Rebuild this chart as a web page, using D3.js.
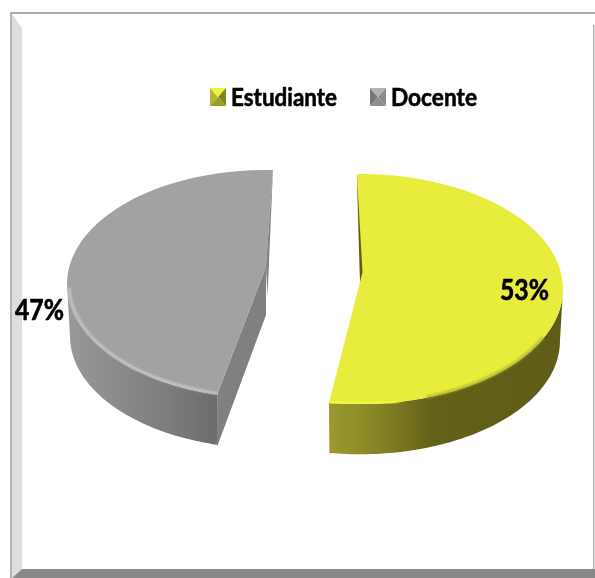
<!DOCTYPE html>
<head>
  <meta charset="utf-8">
  <title>Estudiante / Docente</title>
  <script src="https://d3js.org/d3.v7.min.js"></script>
  <style>
    html, body { margin: 0; padding: 0; background: #fff; }
    svg { display: block; }
    text { font-family: Lato, "Open Sans", sans-serif; font-weight: 700; fill: #000; stroke: #000; stroke-width: 0.6px; }
    .legend-label { font-size: 25px; }
    .pct-label { font-size: 28px; }
  </style>
</head>
<body>
  <script>
    var categories = ["Estudiante", "Docente"];
    var values = [53, 47];
    var valueLabels = ["53%", "47%"];

    var width = 595, height = 578;
    var deg = Math.PI / 180;

    // each slice sits on its own ellipse because the pie is exploded
    // startTurn / endTurn nudge the cut edges for the perspective of the original
    var sliceLayout = [
      {cx: 360, cy: 289, rx: 203, ry: 115, depth: 52, apexDy: -7, startTurn: 0, endTurn: -1.1,
       top: "#e8ec3c", rim: "#f9fb45", dark: "#5f5c18", side: ["#9a9a2e", "#8a8826", "#636019", "#5f5c18"],
       labelX: 524.5, labelY: 300, labelW: 49},
      {cx: 266, cy: 284, rx: 199, ry: 114, depth: 52, apexDy: -17, startTurn: 4.3, endTurn: 2.9,
       top: "#a2a2a2", rim: "#d2d2d2", dark: "#808080", side: ["#999999", "#8c8c8c", "#7b7b7b", "#6c6c6c"],
       labelX: 39.5, labelY: 320, labelW: 49}
    ];

    var svg = d3.select("body").append("svg")
      .attr("width", width)
      .attr("height", height);

    var defs = svg.append("defs");
    defs.append("filter").attr("id", "soft")
      .attr("x", "-5%").attr("y", "-5%").attr("width", "110%").attr("height", "110%")
      .append("feGaussianBlur").attr("stdDeviation", 1);
    defs.append("filter").attr("id", "textSoft")
      .attr("x", "-5%").attr("y", "-10%").attr("width", "110%").attr("height", "120%")
      .append("feGaussianBlur").attr("stdDeviation", 0.35);
    defs.append("filter").attr("id", "keySoft")
      .attr("x", "-10%").attr("y", "-10%").attr("width", "120%").attr("height", "120%")
      .append("feGaussianBlur").attr("stdDeviation", 0.6);

    // frame
    svg.append("rect").attr("x", 10).attr("y", 12).attr("width", 585).attr("height", 2).attr("fill", "#aaaaaa");
    svg.append("rect").attr("x", 10).attr("y", 12).attr("width", 2).attr("height", 566).attr("fill", "#b4b4b4");
    svg.append("path").attr("d", "M12,14L22,28V569L12,578Z").attr("fill", "#dddddd");
    svg.append("path").attr("d", "M12,578L22,569H595V578Z").attr("fill", "#888888");
    svg.append("rect").attr("x", 593).attr("y", 25).attr("width", 1.5).attr("height", 544).attr("fill", "#b0b0b0");

    var pie = d3.pie().sort(null).startAngle(-0.9 * deg).endAngle(359.1 * deg);
    var arcs = pie(values);

    var line = d3.line();

    function rimPoint(s, a, k, dy) {
      return [s.cx + k * s.rx * Math.sin(a), s.cy - k * s.ry * Math.cos(a) + dy];
    }

    function sweep(s, a0, a1, k, dy) {
      var n = 80;
      return d3.range(n + 1).map(function(i) {
        return rimPoint(s, a0 + (a1 - a0) * i / n, k, dy);
      });
    }

    arcs.forEach(function(d, i) {
      var s = sliceLayout[i];
      var a0 = d.startAngle + s.startTurn * deg;
      var a1 = d.endAngle + s.endTurn * deg;
      var apex = [s.cx, s.cy + s.apexDy];
      var g = svg.append("g").attr("class", "slice");

      // front part of the rim, the only piece of the wall the eye can see
      var front0 = Math.max(a0, 90 * deg), front1 = Math.min(a1, 270 * deg);
      var upper = sweep(s, front0, front1, 1, 0);
      var lower = sweep(s, front1, front0, 0.985, s.depth);

      var x0 = d3.min(upper, function(p) { return p[0]; });
      var x1 = d3.max(upper, function(p) { return p[0]; });
      var gradId = "side" + i;
      var grad = defs.append("linearGradient").attr("id", gradId)
        .attr("gradientUnits", "userSpaceOnUse")
        .attr("x1", x0).attr("x2", x1).attr("y1", 0).attr("y2", 0);
      var stops = i == 0 ? [0, 0.18, 0.45, 1] : [0, 0.3, 0.7, 1];
      s.side.forEach(function(c, k) {
        grad.append("stop").attr("offset", stops[k]).attr("stop-color", c);
      });

      g.append("path")
        .attr("d", line(upper.concat(lower)) + "Z")
        .attr("fill", "url(#" + gradId + ")");

      // cut wall on the near side of the docente slice
      if (i == 1) {
        var end = rimPoint(s, a0, 1, 0);
        g.append("path")
          .attr("d", line([apex, [apex[0], apex[1] + s.depth - 4], [end[0], end[1] + s.depth], end]) + "Z")
          .attr("fill", s.dark);
      }

      // top face
      var face = sweep(s, a0, a1, 1, 0);
      face.push(apex);
      g.append("path").attr("d", line(face) + "Z").attr("fill", s.top);

      // thin back wall seen along the straight edge
      var back = i == 0 ? rimPoint(s, a0, 1, 0) : rimPoint(s, a1, 1, 0);
      var sliverTo = i == 0 ? [apex[0] + 2.5, apex[1] - 10] : [apex[0] + 1.5, apex[1] + 30];
      g.append("path")
        .attr("d", line([back, sliverTo, apex]) + "Z")
        .attr("fill", s.dark);

      // bevel along the rim
      if (i == 0) {
        g.append("path")
          .attr("d", line(sweep(s, 115 * deg, a1 - 28 * deg, 0.995, 0)))
          .attr("fill", "none").attr("stroke", "#a8aa2c").attr("stroke-width", 3)
          .attr("filter", "url(#soft)").attr("opacity", 0.7);
        g.append("path")
          .attr("d", line(sweep(s, a1 - 20 * deg, a1, 0.995, 0)))
          .attr("fill", "none").attr("stroke", s.rim).attr("stroke-width", 2.5)
          .attr("filter", "url(#soft)");
      } else {
        g.append("path")
          .attr("d", line(sweep(s, a0, 268 * deg, 0.99, 0)))
          .attr("fill", "none").attr("stroke", s.rim).attr("stroke-width", 2)
          .attr("filter", "url(#soft)");
      }

      svg.append("text")
        .attr("class", "pct-label")
        .attr("x", s.labelX)
        .attr("y", s.labelY)
        .attr("text-anchor", "middle")
        .attr("textLength", s.labelW)
        .attr("lengthAdjust", "spacingAndGlyphs")
        .attr("filter", "url(#textSoft)")
        .text(valueLabels[i]);
    });

    // legend
    var legendX = d3.scaleOrdinal().domain(categories).range([210, 370]);
    var legendTextW = d3.scaleOrdinal().domain(categories).range([106, 86]);
    var keyShades = [
      ["#b4b62e", "#f0f23c", "#85851f", "#9c9d28"],
      ["#757575", "#b2b2b2", "#8a8a8a", "#8e8e8e"]
    ];
    var key = svg.append("g").selectAll("g")
      .data(categories)
      .enter().append("g")
      .attr("transform", function(d) { return "translate(" + legendX(d) + ",88)"; });

    key.each(function(d, i) {
      var kw = 16, kh = 18, c = [kw / 2, kh / 2];
      var corners = [[0, 0], [kw, 0], [kw, kh], [0, kh]];
      var facets = d3.select(this).append("g").attr("filter", "url(#keySoft)");
      // left, top, right, bottom facets of the little bevelled square
      [[3, 0], [0, 1], [1, 2], [2, 3]].forEach(function(p, j) {
        facets.append("path")
          .attr("d", line([corners[p[0]], corners[p[1]], c]) + "Z")
          .attr("fill", keyShades[i][j]);
      });
    });

    key.append("text")
      .attr("class", "legend-label")
      .attr("x", 21)
      .attr("y", 18)
      .attr("textLength", function(d) { return legendTextW(d); })
      .attr("lengthAdjust", "spacingAndGlyphs")
      .attr("filter", "url(#textSoft)")
      .text(function(d) { return d; });
  </script>
</body>
